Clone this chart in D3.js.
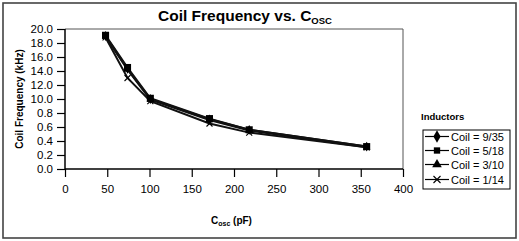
<!DOCTYPE html>
<html><head><meta charset="utf-8">
<script src="https://cdn.jsdelivr.net/npm/d3@7"></script>
<style>body{margin:0;background:#fff}svg{display:block;font-family:"Liberation Sans",Arial,sans-serif}</style>
</head><body><svg id="c" width="519" height="241"></svg>
<script>
const capacitance = [48, 74, 101, 171, 218, 357];
const coil935 = [19.0, 14.3, 10.0, 7.1, 5.6, 3.2];
const coil518 = [19.1, 14.5, 10.1, 7.2, 5.6, 3.2];
const coil310 = [18.9, 14.2, 9.9, 7.0, 5.5, 3.1];
const coil114 = [18.8, 13.0, 9.7, 6.5, 5.2, 3.1];
const seriesNames = ["Coil = 9/35", "Coil = 5/18", "Coil = 3/10", "Coil = 1/14"];
const xTicks = [0, 50, 100, 150, 200, 250, 300, 350, 400];
const yTickValues = [0, 2, 4, 6, 8, 10, 12, 14, 16, 18, 20];
const yTickLabels = ["0.0","0.2","0.4","0.6","0.8","10.0","12.0","14.0","16.0","18.0","20.0"];

const svg = d3.select("#c");
svg.append("rect").attr("x",3).attr("y",3).attr("width",513).attr("height",235)
  .attr("fill","#fff").attr("stroke","#444").attr("stroke-width",1.6);

const L=65,R=403,T=29,B=169;
const x = d3.scaleLinear().domain([0,400]).range([L,R]);
const y = d3.scaleLinear().domain([0,20]).range([B,T]);

svg.append("path").attr("d",`M${L},${T}H${R}V${B}`).attr("fill","none").attr("stroke","#555").attr("stroke-width",1);

const xa = svg.append("g").attr("transform",`translate(0,${B})`)
  .call(d3.axisBottom(x).tickValues(xTicks).tickSize(8).tickPadding(8).tickFormat(d3.format("d")));
const ya = svg.append("g").attr("transform",`translate(${L},0)`)
  .call(d3.axisLeft(y).tickValues(yTickValues).tickSize(8).tickPadding(4).tickFormat((d,i)=>yTickLabels[i]));
[xa,ya].forEach(a=>{
  a.select(".domain").attr("stroke","#000").attr("stroke-width",1.5);
  a.selectAll(".tick line").attr("stroke","#000").attr("stroke-width",1.2);
  a.selectAll("text").attr("font-size","11.5px").attr("fill","#000").attr("font-family","Liberation Sans, Arial, sans-serif");
});
ya.select(".domain").attr("d",`M0,${B}V${T}`);
xa.select(".domain").attr("d",`M${L},0H${R}`);

const data = [coil935, coil518, coil310, coil114];
const symbols = [d3.symbolDiamond, d3.symbolSquare, d3.symbolTriangle, null];
const line = d3.line().x((d,i)=>x(capacitance[i])).y(d=>y(d));
const order=[0,2,3,1];
order.forEach(s=>{
  svg.append("path").datum(data[s]).attr("d",line).attr("fill","none").attr("stroke","#111").attr("stroke-width",2);
});
function marker(g, s, cx, cy, big){
  if(symbols[s]){
    const sz = big ? [45,40,40][s] : [28,50,24][s];
    g.append("path").attr("d",d3.symbol().type(symbols[s]).size(sz)()).attr("transform",`translate(${cx},${cy})`).attr("fill","#000");
  } else {
    const h = big?3.5:3;
    g.append("path").attr("d",`M${cx-h},${cy-h}L${cx+h},${cy+h}M${cx-h},${cy+h}L${cx+h},${cy-h}`).attr("stroke","#000").attr("stroke-width",1.1);
  }
}
[0,2,3,1].forEach(s=>{
  const g=svg.append("g");
  data[s].forEach((v,i)=>marker(g,s,x(capacitance[i]),y(v),false));
});

const title = svg.append("text").attr("x",158).attr("y",21).attr("font-size","15.5px").attr("font-weight","bold");
title.append("tspan").text("Coil Frequency vs. C");
title.append("tspan").attr("font-size","9.5px").attr("dy",3).text("OSC");

const xt = svg.append("text").attr("x",211).attr("y",224).attr("font-size","10px").attr("font-weight","bold");
xt.append("tspan").text("C");
xt.append("tspan").attr("font-size","7px").attr("dy",2).text("osc");
xt.append("tspan").attr("dy",-2).text(" (pF)");

svg.append("text").attr("transform",`translate(23,${(T+B)/2}) rotate(-90)`).attr("text-anchor","middle")
  .attr("font-size","10px").attr("font-weight","bold").text("Coil Frequency (kHz)");

svg.append("text").attr("x",421).attr("y",120).attr("font-size","9.5px").attr("font-weight","bold").text("Inductors");
svg.append("rect").attr("x",423).attr("y",130).attr("width",87).attr("height",59).attr("fill","#fff").attr("stroke","#000").attr("stroke-width",1);
const ly=[136.5,150.5,164.5,179.5];
seriesNames.forEach((n,s)=>{
  const g=svg.append("g");
  g.append("line").attr("x1",425).attr("x2",449).attr("y1",ly[s]).attr("y2",ly[s]).attr("stroke","#000").attr("stroke-width",1.2);
  marker(g,s,437,ly[s],true);
  g.append("text").attr("x",451).attr("y",ly[s]+4).attr("font-size","11px").text(n);
});
</script></body></html>
